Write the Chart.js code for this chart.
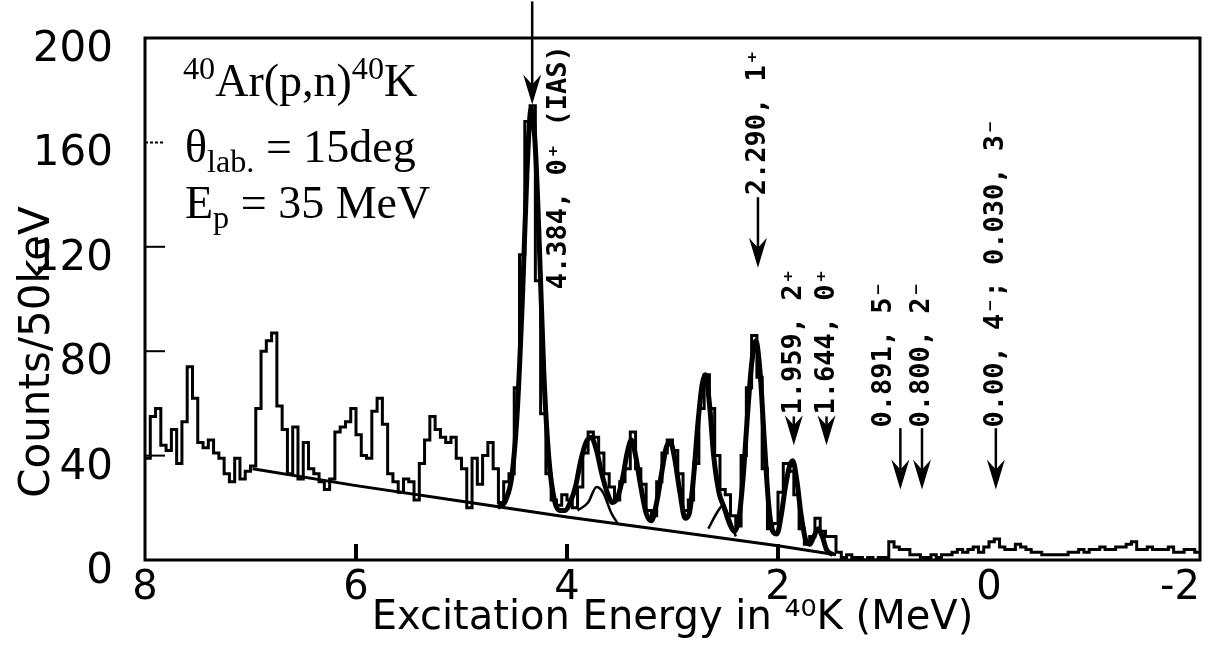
<!DOCTYPE html>
<html>
<head>
<meta charset="utf-8">
<title>40Ar(p,n)40K excitation spectrum</title>
<script src="https://cdn.jsdelivr.net/npm/chart.js@4.4.1/dist/chart.umd.min.js"></script>
<style>
  html, body { margin: 0; padding: 0; background: #fff; }
  #wrap { width: 1212px; height: 645px; }
</style>
</head>
<body>
<div id="wrap"><canvas id="spectrum" width="1212" height="645"></canvas></div>
<script>
// Histogram: 50 keV bins, first bin starts at 8.00 MeV and runs down to -2 MeV
const binStartE = 8.0;
const binWidthE = 0.05;
const counts = [
  39, 55, 58, 44, 42, 50, 37, 53, 74, 62, 45, 43, 46, 41, 39, 33, 30, 39, 31, 34,
  36, 58, 80, 84, 87, 59, 50, 33, 51, 31, 45, 35, 33, 30, 27, 31, 49, 51, 53, 58,
  48, 40, 39, 57, 62, 52, 33, 30, 26, 31, 30, 23, 37, 46, 55, 50, 47, 45, 47, 39,
  35, 20, 39, 29, 40, 45, 35, 22, 30, 33, 66, 117, 168, 174, 107, 56, 33, 23, 21, 25,
  23, 20, 28, 41, 49, 47, 41, 33, 28, 23, 30, 35, 49, 35, 29, 19, 17, 30, 41, 46,
  42, 33, 19, 23, 37, 58, 71, 58, 40, 27, 25, 17, 13, 40, 66, 86, 70, 35, 12, 14,
  26, 37, 34, 25, 12, 6, 9, 16, 11, 9, 9, 3, 1, 2, 1, 1, 0, 1, 0, 1,
  1, 7, 5, 4, 4, 2, 2, 1, 1, 2, 1, 2, 2, 3, 4, 3, 4, 5, 3, 5,
  7, 8, 5, 4, 4, 6, 5, 4, 3, 3, 2, 2, 2, 2, 2, 3, 3, 4, 3, 4,
  4, 5, 4, 4, 5, 5, 6, 7, 4, 4, 5, 4, 4, 4, 5, 3, 3, 4, 4, 3
];

// smooth background under the peaks
const bgE      = [6.98, 6.0, 5.0, 4.0, 3.0, 2.0, 1.45];
const bgCounts = [35, 28.5, 22.5, 16.5, 11, 5.5, 2];

// total fit through the 4.6 - 1.5 MeV region
const fitE = [4.66, 4.58, 4.52, 4.47, 4.42, 4.38, 4.34, 4.30, 4.26, 4.22, 4.17, 4.12, 4.07, 4.02,
  3.97, 3.92, 3.87, 3.82, 3.77, 3.72, 3.67, 3.62, 3.57, 3.52, 3.47, 3.43, 3.39, 3.35, 3.30,
  3.25, 3.20, 3.15, 3.10, 3.06, 3.02, 2.98, 2.93, 2.88, 2.84, 2.80, 2.76, 2.72, 2.69, 2.65,
  2.61, 2.56, 2.51, 2.46, 2.41, 2.37, 2.33, 2.29, 2.25, 2.21, 2.17, 2.13, 2.09, 2.05, 2.01,
  1.97, 1.93, 1.89, 1.86, 1.82, 1.78, 1.74, 1.70, 1.66, 1.62, 1.58, 1.54, 1.48];
const fitCounts = [20, 23, 33, 58, 103, 148, 173, 158, 118, 72, 38, 23, 19, 19,
  22, 28, 38, 45, 47, 42, 33, 26, 22, 24, 32, 41, 46, 40, 28,
  18, 15, 22, 34, 43, 45, 39, 26, 16, 18, 32, 52, 67, 71, 60,
  40, 26, 20, 14, 11, 16, 32, 55, 75, 84, 72, 46, 22, 11, 10,
  17, 28, 36, 38, 30, 17, 8, 6, 9, 12, 9, 4, 2];

// two weaker fit components
const compAE = [3.90, 3.80, 3.72, 3.66, 3.58, 3.52];
const compACounts = [19, 22, 28, 26, 18, 14];
const compBE = [2.66, 2.58, 2.52, 2.46, 2.40];
const compBCounts = [12, 18, 21, 16, 9];

const xTicks = [8, 6, 4, 2, 0, -2];
const yTicks = [0, 40, 80, 120, 160, 200];

// level markers: arrow energy, arrow from/to (counts), label energy, label start (counts)
const levels = [
  { text: '4.384, 0\u207A (IAS)', arrowE: 4.33, from: 214, to: 174.5, textE: 4.08, textFrom: 103 },
  { text: '2.290, 1\u207A', arrowE: 2.19, from: 139, to: 112, textE: 2.19, textFrom: 139 },
  { text: '1.959, 2\u207A', arrowE: 1.85, from: 55, to: 44, textE: 1.85, textFrom: 55 },
  { text: '1.644, 0\u207A', arrowE: 1.54, from: 55, to: 44, textE: 1.54, textFrom: 55 },
  { text: '0.891, 5\u207B', arrowE: 0.84, from: 50.5, to: 27, textE: 1.0, textFrom: 50 },
  { text: '0.800, 2\u207B', arrowE: 0.635, from: 50.5, to: 27, textE: 0.635, textFrom: 50 },
  { text: '0.00, 4\u207B; 0.030, 3\u207B', arrowE: -0.065, from: 50.5, to: 27, textE: -0.065, textFrom: 50 }
];

const histPoints = counts.map((c, i) => ({ x: binStartE - i * binWidthE, y: c }));
histPoints.push({ x: binStartE - counts.length * binWidthE, y: counts[counts.length - 1] });
const toPts = (xs, ys) => xs.map((x, i) => ({ x: x, y: ys[i] }));

function drawRich(ctx, x, y, parts, size) {
  parts.forEach(([txt, mode]) => {
    const s = mode ? size * 0.7 : size;
    ctx.font = s + 'px "Liberation Serif"';
    const dy = mode === 'sup' ? -size * 0.36 : mode === 'sub' ? size * 0.22 : 0;
    ctx.fillText(txt, x, y + dy);
    x += ctx.measureText(txt).width;
  });
}

const decorations = {
  id: 'decorations',
  afterDatasetsDraw(chart) {
    const { ctx, chartArea: a, scales: { x, y } } = chart;
    ctx.save();
    ctx.strokeStyle = '#000';
    ctx.fillStyle = '#000';

    // frame
    ctx.lineWidth = 3;
    ctx.strokeRect(a.left, a.top, a.right - a.left, a.bottom - a.top);

    // inner tick marks
    ctx.lineWidth = 2;
    yTicks.slice(1, -1).forEach(v => {
      const py = y.getPixelForValue(v);
      ctx.setLineDash(v === 160 ? [3, 2] : []);
      ctx.beginPath(); ctx.moveTo(a.left, py); ctx.lineTo(a.left + 20, py); ctx.stroke();
    });
    ctx.setLineDash([]);
    ctx.lineWidth = 4;
    xTicks.slice(1, 4).forEach(v => {
      const px = x.getPixelForValue(v);
      ctx.beginPath(); ctx.moveTo(px, a.bottom); ctx.lineTo(px, a.bottom - 16); ctx.stroke();
    });

    // level arrows and labels
    levels.forEach(l => {
      const px = x.getPixelForValue(l.arrowE);
      const y0 = y.getPixelForValue(l.from);
      const y1 = y.getPixelForValue(l.to);
      ctx.lineWidth = 2.5;
      ctx.beginPath(); ctx.moveTo(px, y0); ctx.lineTo(px, y1 - 12); ctx.stroke();
      ctx.beginPath();
      ctx.moveTo(px, y1);
      ctx.lineTo(px - 9, y1 - 30);
      ctx.lineTo(px, y1 - 20);
      ctx.lineTo(px + 9, y1 - 30);
      ctx.closePath();
      ctx.fill();

      ctx.save();
      ctx.translate(x.getPixelForValue(l.textE), y.getPixelForValue(l.textFrom));
      ctx.rotate(-Math.PI / 2);
      ctx.font = 'bold 27px "DejaVu Sans Mono"';
      ctx.textAlign = 'left';
      ctx.textBaseline = 'middle';
      ctx.fillText(l.text, 2, 0);
      ctx.restore();
    });

    // reaction info
    ctx.textAlign = 'left';
    ctx.textBaseline = 'alphabetic';
    drawRich(ctx, 183, 96, [['40', 'sup'], ['Ar(p,n)', null], ['40', 'sup'], ['K', null]], 46);
    drawRich(ctx, 185, 162, [['\u03B8', null], ['lab.', 'sub'], [' = 15deg', null]], 46);
    drawRich(ctx, 185, 218, [['E', null], ['p', 'sub'], [' = 35 MeV', null]], 46);

    // y axis title
    ctx.save();
    ctx.translate(38, 352);
    ctx.rotate(-Math.PI / 2);
    ctx.font = '42px "DejaVu Sans"';
    ctx.textAlign = 'center';
    ctx.textBaseline = 'middle';
    ctx.fillText('Counts/50keV', 0, 0);
    ctx.restore();

    ctx.restore();
  }
};

const line = (data, width, extra) => Object.assign({
  data: data,
  borderColor: '#000',
  borderWidth: width,
  pointRadius: 0,
  fill: false
}, extra || {});

new Chart(document.getElementById('spectrum'), {
  type: 'line',
  data: {
    datasets: [
      line(histPoints, 3, { label: 'counts', stepped: true }),
      line(toPts(bgE, bgCounts), 3, { label: 'background' }),
      line(toPts(compAE, compACounts), 2.5, { label: 'component', cubicInterpolationMode: 'monotone' }),
      line(toPts(compBE, compBCounts), 2.5, { label: 'component', cubicInterpolationMode: 'monotone' }),
      line(toPts(fitE, fitCounts), 5, { label: 'fit', cubicInterpolationMode: 'monotone' })
    ]
  },
  options: {
    responsive: false,
    animation: false,
    devicePixelRatio: 1,
    layout: { padding: { top: 38, right: 12, left: 0, bottom: 0 } },
    plugins: { legend: { display: false }, tooltip: { enabled: false } },
    scales: {
      x: {
        type: 'linear',
        min: -2,
        max: 8,
        reverse: true,
        afterBuildTicks: s => { s.ticks = xTicks.map(v => ({ value: v })); },
        afterFit: s => { s.height = 85; s.paddingLeft = 0; s.paddingRight = 0; },
        grid: { display: false, drawTicks: false },
        border: { display: false },
        ticks: {
          color: '#000',
          font: { family: 'DejaVu Sans', size: 40 },
          padding: 5,
          maxRotation: 0,
          autoSkip: false,
          callback: v => (v === -2 ? '-2\u2003' : String(v))
        },
        title: {
          display: true,
          text: 'Excitation Energy in \u2074\u2070K (MeV)',
          color: '#000',
          font: { family: 'DejaVu Sans', size: 40, lineHeight: 1.0 },
          padding: { top: 0, bottom: 6 }
        }
      },
      y: {
        min: 0,
        max: 200,
        afterBuildTicks: s => { s.ticks = yTicks.map(v => ({ value: v })); },
        afterFit: s => { s.width = 145; s.paddingTop = 0; s.paddingBottom = 0; },
        grid: { display: false, drawTicks: false },
        border: { display: false },
        ticks: {
          color: '#000',
          font: { family: 'DejaVu Sans', size: 42 },
          padding: 32,
          labelOffset: 12
        }
      }
    }
  },
  plugins: [decorations]
});
</script>
</body>
</html>
